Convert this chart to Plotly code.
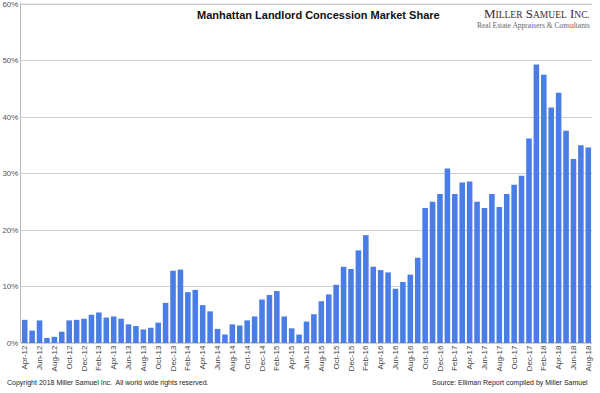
import plotly.graph_objects as go

months = ["Jan", "Feb", "Mar", "Apr", "May", "Jun", "Jul", "Aug", "Sep", "Oct", "Nov", "Dec"]
categories = []
for yr in range(12, 19):
    for i, m in enumerate(months):
        if yr == 12 and i < 3:
            continue
        if yr == 18 and i > 7:
            continue
        categories.append(f"{m}-{yr}")

share = [
    4.1, 2.2, 4.0, 0.9, 1.1, 2.0, 4.0, 4.1, 4.3,
    5.0, 5.4, 4.5, 4.7, 4.3, 3.3, 3.0, 2.4, 2.7, 3.6, 7.1, 12.8,
    13.0, 9.0, 9.4, 6.7, 5.6, 2.5, 1.5, 3.3, 3.1, 4.0, 4.7, 7.7,
    8.5, 9.2, 4.7, 2.6, 1.5, 3.8, 5.1, 7.4, 8.6, 10.3, 13.5, 13.1,
    16.4, 19.1, 13.5, 12.9, 12.5, 9.6, 10.8, 12.1, 15.1, 23.9, 25.0, 26.4,
    30.9, 26.4, 28.4, 28.6, 25.0, 23.9, 26.4, 24.1, 26.4, 28.0, 29.6, 36.2,
    49.3, 47.5, 41.7, 44.3, 37.6, 32.6, 35.0, 34.6,
]
tick_labels = categories[::2]
y_ticks = [0, 10, 20, 30, 40, 50, 60]

L, R, T, B = 21, 8, 3, 50
W, H = 600, 393
pw, ph = W - L - R, H - T - B


def px(x, y):
    return (x - L) / pw, (H - y - B) / ph


fig = go.Figure(go.Bar(
    x=categories, y=share, marker=dict(color="#4a7de5", line=dict(width=0)),
))

ann_specs = [
    ("<b>Manhattan Landlord Concession Market Share</b>", 318, 15, "center",
     dict(size=11, color="#111", family="Liberation Sans, Arial")),
    ("M<span style='font-size:9.5px'>ILLER</span> S<span style='font-size:9.5px'>AMUEL</span> I<span style='font-size:9.5px'>NC.</span>",
     592, 14, "right", dict(size=13, color="#3d2b2b", family="Liberation Serif, Times New Roman, serif")),
    ("Real Estate Appraisers &amp; Consultants", 592, 25.5, "right",
     dict(size=7.5, color="#666", family="Liberation Serif, Times New Roman, serif")),
    ("Copyright 2018 Miller Samuel Inc.  All world wide rights reserved.", 5, 383, "left",
     dict(size=7, color="#222")),
    ("Source: Elliman Report compiled by Miller Samuel", 590, 383, "right",
     dict(size=7, color="#222")),
]
annotations = []
for text, x, y, anchor, font in ann_specs:
    ax, ay = px(x, y)
    annotations.append(dict(text=text, x=ax, y=ay, xref="paper", yref="paper",
                            showarrow=False, xanchor=anchor, yanchor="middle", font=font))

fig.update_layout(
    width=W, height=H,
    margin=dict(l=L, r=R, t=T, b=B),
    plot_bgcolor="white", paper_bgcolor="white",
    bargap=0.25, showlegend=False,
    font=dict(family="Liberation Sans, Arial, sans-serif", color="#444"),
    xaxis=dict(
        type="category", tickmode="array", tickvals=tick_labels, ticktext=tick_labels,
        tickangle=-90, tickfont=dict(size=8, color="#444"), showgrid=False,
        showline=False, ticks="", range=[-0.5, len(categories) - 0.5],
    ),
    yaxis=dict(
        range=[0, 60.2], tickvals=y_ticks, ticktext=[f"{v}%" for v in y_ticks],
        tickfont=dict(size=8, color="#555"), showgrid=True, gridcolor="#cfcfcf",
        gridwidth=1, showline=True, linecolor="#bbbbbb", linewidth=1, ticks="",
        zeroline=True, zerolinecolor="#cfcfcf", automargin=False,
        ticklabeloverflow="allow",
    ),
    annotations=annotations,
    shapes=[dict(type="line", xref="paper", yref="y", x0=0, x1=1,
                 y0=y_ticks[-1], y1=y_ticks[-1], layer="below",
                 line=dict(color="#cfcfcf", width=1))],
)

fig.write_html("out.html", config={"displayModeBar": False},
               post_script="document.body.style.margin='0';")
